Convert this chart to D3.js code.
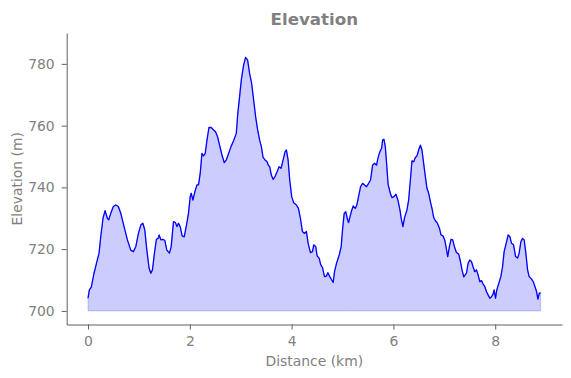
<!DOCTYPE html>
<html>
<head>
<meta charset="utf-8">
<script src="https://cdn.jsdelivr.net/npm/d3@7"></script>
<style>
    body { margin: 0; background: #fff; }
    text { font-family: "DejaVu Sans", sans-serif; fill: #808080; }
</style>
</head>
<body>
<svg id="elevationChart" width="571" height="378"></svg>
<script>
// Data
const distanceKm = [
    0.000, 0.026, 0.065, 0.118, 0.183, 0.217, 0.250, 0.295, 0.335, 0.380,
    0.407, 0.447, 0.498, 0.545, 0.596, 0.644, 0.709, 0.774, 0.840, 0.892,
    0.939, 0.990, 1.037, 1.077, 1.116, 1.156, 1.201, 1.234, 1.266, 1.313,
    1.344, 1.378, 1.398, 1.431, 1.470, 1.510, 1.549, 1.600, 1.634, 1.679,
    1.719, 1.746, 1.778, 1.811, 1.850, 1.890, 1.929, 1.974, 2.008, 2.028,
    2.061, 2.100, 2.140, 2.171, 2.205, 2.238, 2.270, 2.303, 2.337, 2.376,
    2.421, 2.467, 2.506, 2.545, 2.585, 2.632, 2.677, 2.717, 2.762, 2.809,
    2.860, 2.913, 2.943, 2.978, 3.012, 3.057, 3.096, 3.136, 3.175, 3.215,
    3.254, 3.293, 3.333, 3.372, 3.406, 3.439, 3.478, 3.518, 3.543, 3.569,
    3.602, 3.636, 3.675, 3.715, 3.754, 3.793, 3.833, 3.872, 3.898, 3.931,
    3.963, 4.002, 4.041, 4.094, 4.134, 4.173, 4.213, 4.252, 4.291, 4.325,
    4.370, 4.409, 4.435, 4.474, 4.502, 4.541, 4.573, 4.606, 4.646, 4.685,
    4.711, 4.750, 4.789, 4.817, 4.843, 4.882, 4.935, 4.974, 5.000, 5.033,
    5.065, 5.093, 5.118, 5.144, 5.183, 5.211, 5.250, 5.281, 5.315, 5.354,
    5.394, 5.433, 5.472, 5.512, 5.551, 5.591, 5.630, 5.669, 5.695, 5.722,
    5.748, 5.768, 5.787, 5.813, 5.841, 5.866, 5.896, 5.939, 5.971, 6.010,
    6.049, 6.089, 6.128, 6.156, 6.187, 6.220, 6.266, 6.299, 6.333, 6.364,
    6.398, 6.431, 6.463, 6.496, 6.530, 6.561, 6.594, 6.628, 6.659, 6.693,
    6.726, 6.758, 6.791, 6.825, 6.864, 6.904, 6.935, 6.974, 7.008, 7.033,
    7.067, 7.100, 7.132, 7.165, 7.199, 7.238, 7.283, 7.317, 7.348, 7.382,
    7.435, 7.467, 7.500, 7.533, 7.565, 7.598, 7.632, 7.663, 7.697, 7.730,
    7.762, 7.795, 7.829, 7.860, 7.894, 7.927, 7.959, 7.978, 8.006, 8.031,
    8.071, 8.110, 8.144, 8.175, 8.215, 8.254, 8.287, 8.321, 8.360, 8.400,
    8.439, 8.470, 8.504, 8.537, 8.569, 8.602, 8.636, 8.667, 8.715, 8.746,
    8.780, 8.813, 8.839, 8.864, 8.892
];
const elevationM = [
    704.1, 706.8, 707.7, 712.2, 716.5, 718.7, 724.0, 730.0, 732.5, 730.0,
    729.5, 731.6, 733.8, 734.3, 733.8, 731.6, 727.3, 723.0, 719.7, 719.2,
    720.8, 725.1, 727.8, 728.4, 726.2, 719.7, 713.8, 712.2, 713.3, 719.7,
    723.2, 723.5, 724.6, 723.0, 723.2, 722.8, 719.7, 718.7, 720.8, 728.9,
    728.6, 727.3, 728.4, 727.3, 724.3, 724.0, 727.3, 731.6, 737.0, 738.1,
    735.9, 738.6, 740.8, 740.8, 744.6, 751.0, 750.2, 751.0, 755.3, 759.4,
    759.4, 758.6, 758.0, 756.4, 753.7, 750.5, 748.0, 748.9, 751.0, 753.2,
    755.1, 757.5, 764.0, 769.4, 774.8, 779.6, 782.1, 781.2, 776.9, 773.7,
    768.3, 762.9, 758.6, 755.3, 753.2, 749.7, 748.9, 748.3, 747.2, 746.7,
    744.0, 742.6, 743.5, 745.1, 746.7, 746.2, 748.9, 751.6, 752.1, 748.9,
    742.4, 737.0, 735.0, 734.3, 733.2, 730.0, 725.7, 725.1, 725.7, 721.9,
    718.9, 719.2, 721.4, 720.8, 717.8, 717.1, 714.9, 714.1, 711.1, 711.3,
    712.4, 711.1, 710.0, 709.2, 712.7, 715.4, 718.1, 720.8, 726.2, 731.6,
    732.1, 730.0, 728.6, 730.3, 732.7, 734.0, 733.2, 734.3, 737.0, 740.2,
    741.3, 740.8, 740.2, 741.3, 742.4, 747.2, 747.8, 747.2, 749.4, 751.0,
    752.1, 752.6, 755.3, 755.6, 753.2, 747.8, 741.0, 738.1, 736.7, 737.0,
    737.8, 735.9, 732.7, 729.7, 727.3, 730.3, 732.7, 735.9, 742.4, 748.6,
    748.3, 749.7, 750.2, 752.1, 753.7, 752.1, 747.8, 743.5, 739.7, 738.1,
    735.4, 733.2, 730.3, 729.2, 728.4, 726.8, 724.6, 724.3, 723.0, 720.8,
    717.6, 720.8, 723.2, 723.0, 720.8, 718.9, 718.4, 716.0, 713.3, 711.0,
    712.2, 715.4, 716.5, 716.0, 714.3, 712.7, 713.3, 711.7, 709.5, 709.8,
    708.7, 707.9, 706.2, 705.2, 704.1, 704.6, 705.5, 706.8, 704.1, 706.8,
    709.0, 711.1, 714.3, 719.2, 721.9, 724.6, 724.1, 721.9, 721.4, 717.6,
    717.1, 718.7, 722.4, 723.5, 723.0, 718.7, 713.3, 711.1, 710.3, 709.5,
    707.9, 706.2, 703.8, 705.7, 705.9
];
const baseElevation = 700;
const xTicks = [0, 2, 4, 6, 8];
const yTicks = [700, 720, 740, 760, 780];

const titleText = "Elevation";
const xLabel = "Distance (km)";
const yLabel = "Elevation (m)";

// Size settings
const svg = d3.select("#elevationChart");
const width = 571;
const height = 378;
const margin = {top: 33, right: 9, bottom: 53.5, left: 66.7};
const plotW = width - margin.left - margin.right;
const plotH = height - margin.top - margin.bottom;

const axisColor = "#5f5f5f";

const points = distanceKm.map((d, i) => ({km: d, elev: elevationM[i]}));

// Scales
const x = d3.scaleLinear().domain([-0.4185, 9.312]).range([0, plotW]);
const y = d3.scaleLinear().domain([695.6, 790.0]).range([plotH, 0]);

const g = svg.append("g")
    .attr("transform", `translate(${margin.left},${margin.top})`);

// Filled area below the profile
const area = d3.area()
    .x(d => x(d.km))
    .y0(y(baseElevation))
    .y1(d => y(d.elev));

g.append("path")
    .datum(points)
    .attr("d", area)
    .attr("fill", "blue")
    .attr("fill-opacity", 0.2)
    .attr("stroke", "blue")
    .attr("stroke-opacity", 0.2)
    .attr("stroke-width", 1);

// Profile line
const line = d3.line()
    .x(d => x(d.km))
    .y(d => y(d.elev));

g.append("path")
    .datum(points)
    .attr("d", line)
    .attr("fill", "none")
    .attr("stroke", "blue")
    .attr("stroke-width", 1.3)
    .attr("stroke-linejoin", "round");

// Axes
const xAxis = g.append("g")
    .attr("transform", `translate(0,${plotH})`)
    .call(d3.axisBottom(x).tickValues(xTicks).tickSize(5).tickPadding(7).tickSizeOuter(0));

const yAxis = g.append("g")
    .call(d3.axisLeft(y).tickValues(yTicks).tickSize(5).tickPadding(7).tickSizeOuter(0));

[xAxis, yAxis].forEach(ax => {
    ax.select(".domain").attr("stroke", axisColor).attr("stroke-width", 1);
    ax.selectAll(".tick line").attr("stroke", axisColor).attr("stroke-width", 1);
    ax.selectAll(".tick text")
        .attr("fill", "#808080")
        .style("font-family", "'DejaVu Sans', sans-serif")
        .style("font-size", "13.9px");
});

// Title and labels
svg.append("text")
    .attr("x", margin.left + plotW / 2)
    .attr("y", 24.5)
    .attr("text-anchor", "middle")
    .style("font-size", "16.7px")
    .style("font-weight", "bold")
    .text(titleText);

svg.append("text")
    .attr("x", margin.left + plotW / 2)
    .attr("y", 366)
    .attr("text-anchor", "middle")
    .style("font-size", "13.9px")
    .text(xLabel);

svg.append("text")
    .attr("transform", `translate(21.5,${margin.top + plotH / 2}) rotate(-90)`)
    .attr("text-anchor", "middle")
    .style("font-size", "13.9px")
    .text(yLabel);
</script>
</body>
</html>
